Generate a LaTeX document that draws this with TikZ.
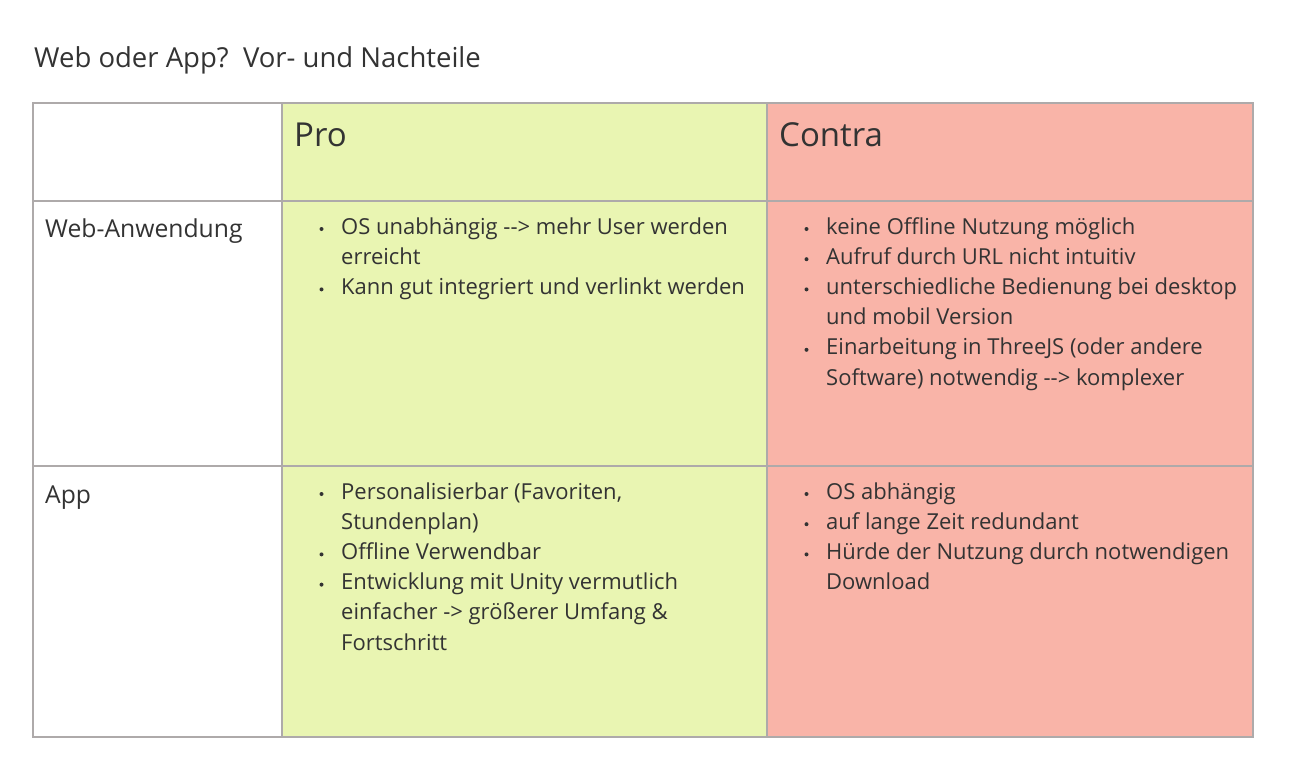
\documentclass[tikz,border=0pt]{standalone}
\usepackage{fontspec}
\setmainfont{Open Sans}
\definecolor{txt}{HTML}{333333}
\definecolor{progreen}{HTML}{E9F5B2}
\definecolor{contrared}{HTML}{F9B4A8}
\definecolor{grid}{HTML}{AEAAAA}
\begin{document}
\begin{tikzpicture}[x=1pt,y=-1pt,
  body/.style={anchor=base west,inner sep=0pt,text=txt,font=\fontsize{22}{26}\selectfont},
  rowlabel/.style={anchor=base west,inner sep=0pt,text=txt,font=\fontsize{24.7}{28}\selectfont},
  head/.style={anchor=base west,inner sep=0pt,text=txt,font=\fontsize{33}{38}\selectfont},
  titletext/.style={anchor=base west,inner sep=0pt,text=txt,font=\fontsize{27.5}{32}\selectfont},
  bul/.style={fill=txt,draw=none},
  gridline/.style={draw=grid,line width=1.4pt}]
\useasboundingbox (0,0) rectangle (1291,774);
\fill[white] (0,0) rectangle (1291,774);
% cell fills
\fill[progreen] (282,103) rectangle (767,737);
\fill[contrared] (767,103) rectangle (1253,737);
% grid
\draw[gridline] (33,103) rectangle (1253,737);
\draw[gridline] (282,103) -- (282,737);
\draw[gridline] (767,103) -- (767,737);
\draw[gridline] (33,201) -- (1253,201);
\draw[gridline] (33,466) -- (1253,466);
% title
\node[titletext] (title) at (34,67) {Web oder App?\ \ Vor- und Nachteile};
% headers
\node[head] (pro) at (294,146) {Pro};
\node[head] (contra) at (779,146) {Contra};
% row labels
\node[rowlabel] (web) at (45,237) {Web-Anwendung};
\node[rowlabel] (app) at (45,503) {App};
% Pro / Web
\node[body] (pw1) at (341,234) {OS unabhängig {-}{-}> mehr User werden};
\node[body] (pw2) at (341,264.2) {erreicht};
\node[body] (pw3) at (341,294.4) {Kann gut integriert und verlinkt werden};
\fill[bul] (321.5,229) circle (2);
\fill[bul] (321.5,289.4) circle (2);
% Contra / Web
\node[body] (cw1) at (826,234) {keine Offline Nutzung möglich};
\node[body] (cw2) at (826,264.2) {Aufruf durch URL nicht intuitiv};
\node[body] (cw3) at (826,294.4) {unterschiedliche Bedienung bei desktop};
\node[body] (cw4) at (826,324.6) {und mobil Version};
\node[body] (cw5) at (826,354.8) {Einarbeitung in ThreeJS (oder andere};
\node[body] (cw6) at (826,385) {Software) notwendig {-}{-}> komplexer};
\fill[bul] (806.5,229) circle (2);
\fill[bul] (806.5,259.2) circle (2);
\fill[bul] (806.5,289.4) circle (2);
\fill[bul] (806.5,349.8) circle (2);
% Pro / App
\node[body] (pa1) at (341,499) {Personalisierbar (Favoriten,};
\node[body] (pa2) at (341,529.2) {Stundenplan)};
\node[body] (pa3) at (341,559.4) {Offline Verwendbar};
\node[body] (pa4) at (341,589.6) {Entwicklung mit Unity vermutlich};
\node[body] (pa5) at (341,619.8) {einfacher {-}> größerer Umfang \&};
\node[body] (pa6) at (341,650) {Fortschritt};
\fill[bul] (321.5,494) circle (2);
\fill[bul] (321.5,554.4) circle (2);
\fill[bul] (321.5,584.6) circle (2);
% Contra / App
\node[body] (ca1) at (826,499) {OS abhängig};
\node[body] (ca2) at (826,529.2) {auf lange Zeit redundant};
\node[body] (ca3) at (826,559.4) {Hürde der Nutzung durch notwendigen};
\node[body] (ca4) at (826,589.6) {Download};
\fill[bul] (806.5,494) circle (2);
\fill[bul] (806.5,524.2) circle (2);
\fill[bul] (806.5,554.4) circle (2);
\end{tikzpicture}
\end{document}
